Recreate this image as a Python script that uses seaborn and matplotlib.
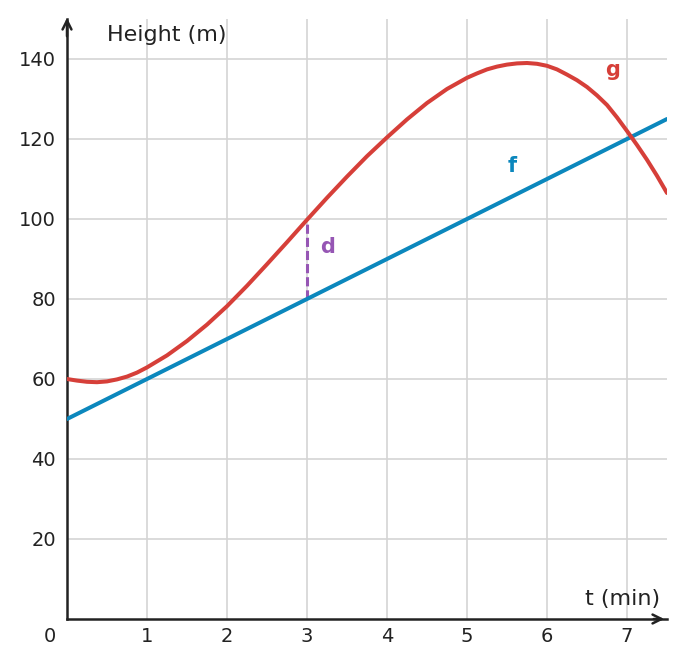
import numpy as np
import pandas as pd
import matplotlib
matplotlib.use("Agg")
import matplotlib.pyplot as plt
import seaborn as sns

# values
t_g = [0, 0.125, 0.25, 0.375, 0.5, 0.625, 0.75, 0.875, 1.0, 1.25, 1.5, 1.75, 2.0, 2.25, 2.5, 2.75,
       3.0, 3.25, 3.5, 3.75, 4.0, 4.25, 4.5, 4.75, 5.0, 5.125, 5.25, 5.375, 5.5, 5.625, 5.75, 5.875,
       6.0, 6.125, 6.25, 6.375, 6.5, 6.625, 6.75, 6.875, 7.0, 7.125, 7.25, 7.375, 7.5]
g_vals = [60.0, 59.6, 59.3, 59.2, 59.4, 59.9, 60.6, 61.6, 62.9, 65.9, 69.5, 73.6, 78.2, 83.3, 88.7, 94.2,
          99.8, 105.3, 110.6, 115.7, 120.4, 124.9, 129.0, 132.5, 135.3, 136.4, 137.4, 138.1, 138.6, 138.9, 139.0, 138.8,
          138.3, 137.4, 136.1, 134.7, 133.0, 130.9, 128.5, 125.4, 122.0, 118.5, 114.8, 110.8, 106.5]
t_f = [0, 1, 2, 3, 4, 5, 6, 7, 7.5]
f_vals = [50, 60, 70, 80, 90, 100, 110, 120, 125]
d_t = [3, 3]
d_vals = [80, 99.8]
x_ticks = [1, 2, 3, 4, 5, 6, 7]
y_ticks = [20, 40, 60, 80, 100, 120, 140]

RED = "#d63f39"
BLUE = "#0b87bd"
PURPLE = "#9656b4"
INK = "#222222"

sns.set_style("whitegrid", {"grid.color": "#d4d4d4"})
plt.rcParams['font.family'] = ['DejaVu Sans']

fig = plt.figure(figsize=(6.87, 6.68), dpi=100)
ax = fig.add_axes([67 / 687, 49 / 668, 600 / 687, 600 / 668])

g_df = pd.DataFrame({"t": t_g, "h": g_vals})
f_df = pd.DataFrame({"t": t_f, "h": f_vals})
sns.lineplot(data=f_df, x="t", y="h", color=BLUE, lw=2.9, ax=ax, zorder=3)
sns.lineplot(data=g_df, x="t", y="h", color=RED, lw=2.9, ax=ax, zorder=4)
ax.plot(d_t, d_vals, color=PURPLE, lw=2.2, ls=(0, (3, 1.3)), zorder=2)

ax.set_xlim(0, 7.5)
ax.set_ylim(0, 150)
ax.set_xticks(x_ticks)
ax.set_yticks(y_ticks)
ax.grid(True, lw=1.2)
ax.set_xlabel("")
ax.set_ylabel("")
for s in ["top", "right"]:
    ax.spines[s].set_visible(False)
for s in ["left", "bottom"]:
    ax.spines[s].set_color(INK)
    ax.spines[s].set_linewidth(1.8)
ax.tick_params(axis="both", direction="in", length=4, width=1.5, color=INK,
               labelsize=14, labelcolor=INK)
ax.tick_params(axis="x", pad=6)
ax.tick_params(axis="y", pad=8)

# axis arrows
ax.annotate("", xy=(7.5, 0), xytext=(7.3, 0),
            arrowprops=dict(arrowstyle="->", color=INK, lw=1.8, mutation_scale=16), annotation_clip=False)
ax.annotate("", xy=(0, 151), xytext=(0, 145),
            arrowprops=dict(arrowstyle="->", color=INK, lw=1.8, mutation_scale=16), annotation_clip=False)

ax.text(-0.21, -4.5, "0", fontsize=14, color=INK, ha="center", va="center", clip_on=False)
ax.text(0.5, 146, "Height (m)", fontsize=16, color=INK, ha="left", va="center")
ax.text(7.42, 5, "t (min)", fontsize=16, color=INK, ha="right", va="center")
ax.text(6.82, 137.3, "g", fontsize=15, color=RED, fontweight="bold", ha="center", va="center")
ax.text(5.57, 113.3, "f", fontsize=15, color=BLUE, fontweight="bold", ha="center", va="center")
ax.text(3.26, 93, "d", fontsize=15, color=PURPLE, fontweight="bold", ha="center", va="center")

fig.savefig("out.png", dpi=100)
